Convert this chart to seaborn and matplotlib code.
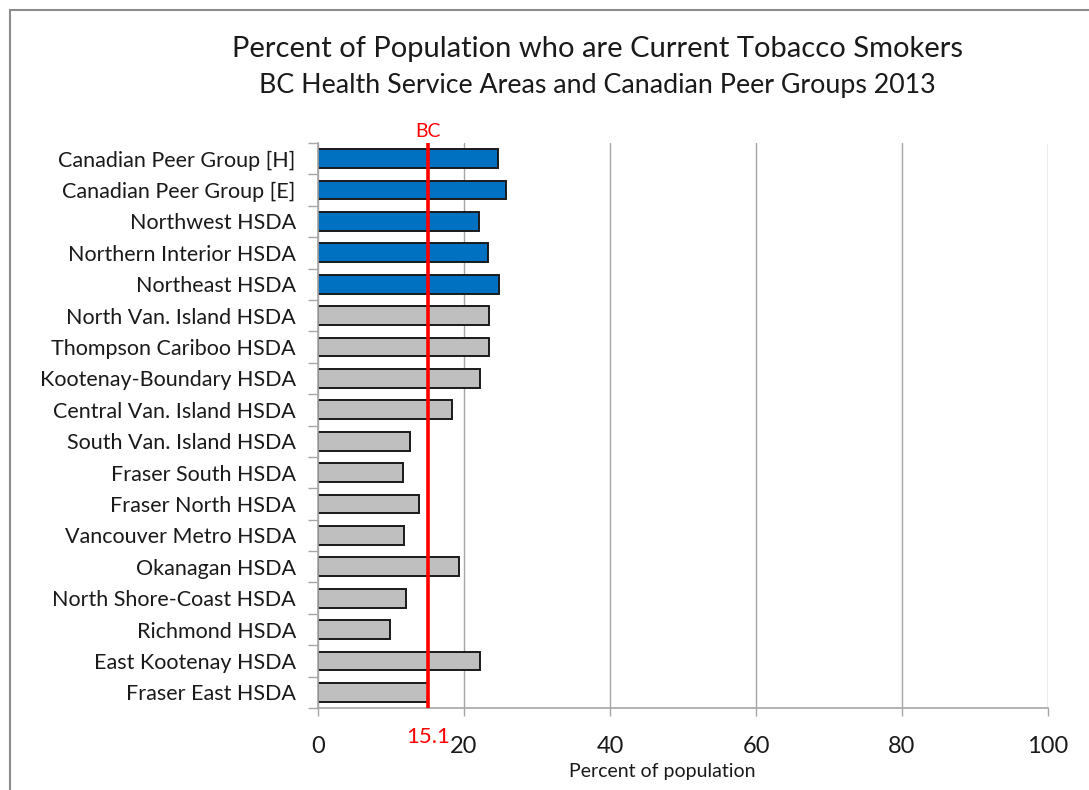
import matplotlib
matplotlib.use("Agg")
import matplotlib.pyplot as plt
from matplotlib.patches import Rectangle
from matplotlib.ticker import FixedLocator
import seaborn as sns
import pandas as pd

areas = [
    "Canadian Peer Group [H]", "Canadian Peer Group [E]", "Northwest HSDA",
    "Northern Interior HSDA", "Northeast HSDA", "North Van. Island HSDA",
    "Thompson Cariboo HSDA", "Kootenay-Boundary HSDA", "Central Van. Island HSDA",
    "South Van. Island HSDA", "Fraser South HSDA", "Fraser North HSDA",
    "Vancouver Metro HSDA", "Okanagan HSDA", "North Shore-Coast HSDA",
    "Richmond HSDA", "East Kootenay HSDA", "Fraser East HSDA",
]
smokers_pct = [24.6, 25.8, 22.0, 23.3, 24.8, 23.4, 23.4, 22.2, 18.3,
               12.6, 11.6, 13.9, 11.8, 19.3, 12.0, 9.9, 22.2, 15.1]
groups = ["North"] * 5 + ["Other"] * 13
bc_rate = 15.1
x_ticks = [0, 20, 40, 60, 80, 100]

df = pd.DataFrame({"area": areas, "pct": smokers_pct, "group": groups})

sns.set_theme(style="white")
plt.rcParams["font.family"] = ["Lato", "DejaVu Sans"]

fig = plt.figure(figsize=(10.89, 7.90), dpi=100)
ax = fig.add_axes([318 / 1089, 1 - 708 / 790, 730 / 1089, 565 / 790])

sns.barplot(data=df, y="area", x="pct", hue="group", orient="h", dodge=False,
            palette={"North": "#0070C0", "Other": "#BFBFBF"}, saturation=1,
            width=0.6, edgecolor="#1a1a1a", linewidth=1.4, legend=False, ax=ax)

ax.set_xlim(0, 100)
ax.set_ylim(len(areas) - 0.5, -0.5)
ax.xaxis.set_major_locator(FixedLocator(x_ticks))
ax.grid(axis="x", color="#A6A6A6", linewidth=1.0)
ax.grid(axis="y", visible=False)
ax.set_axisbelow(True)

for side in ["top", "right"]:
    ax.spines[side].set_visible(False)
for side in ["left", "bottom"]:
    ax.spines[side].set_color("#A6A6A6")
    ax.spines[side].set_linewidth(1.2)

ax.tick_params(axis="x", which="major", bottom=True, direction="out", length=6,
               width=1.0, color="#A6A6A6", labelsize=17, labelcolor="#1a1a1a",
               pad=14)
ax.tick_params(axis="y", which="major", left=True, length=0, labelsize=15.5,
               labelcolor="#1a1a1a", pad=16)
ax.yaxis.set_minor_locator(FixedLocator([i - 0.5 for i in range(len(areas) + 1)]))
ax.tick_params(axis="y", which="minor", left=True, direction="out", length=7,
               width=1.0, color="#A6A6A6")

ax.set_ylabel("")
ax.set_xlabel("")
ax.text((662 - 318) / 730, -0.113, "Percent of population", fontsize=14,
        color="#1a1a1a", ha="center", va="center", transform=ax.transAxes)

# Provincial reference line
ax.axvline(bc_rate, color="#FF0000", linewidth=2.6, ymin=0, ymax=1.0, zorder=5)
ax.text(bc_rate, 1.005, "BC", color="#FF0000", fontsize=14, ha="center",
        va="bottom", transform=ax.get_xaxis_transform())
ax.text(bc_rate, -0.052, f"{bc_rate}", color="#FF0000", fontsize=16, ha="center",
        va="center", transform=ax.get_xaxis_transform())

fig.text(597 / 1089, 1 - 49 / 790,
         "Percent of Population who are Current Tobacco Smokers",
         ha="center", va="center", fontsize=21, color="#1a1a1a")
fig.text(597 / 1089, 1 - 86 / 790,
         "BC Health Service Areas and Canadian Peer Groups 2013",
         ha="center", va="center", fontsize=19.3, color="#1a1a1a")

fig.patches.append(Rectangle((10 / 1089, -0.1), 1.2, 1.1 - 10 / 790,
                             transform=fig.transFigure, fill=False,
                             edgecolor="#8C8C8C", linewidth=1.5))

fig.savefig("out.png", dpi=100)
